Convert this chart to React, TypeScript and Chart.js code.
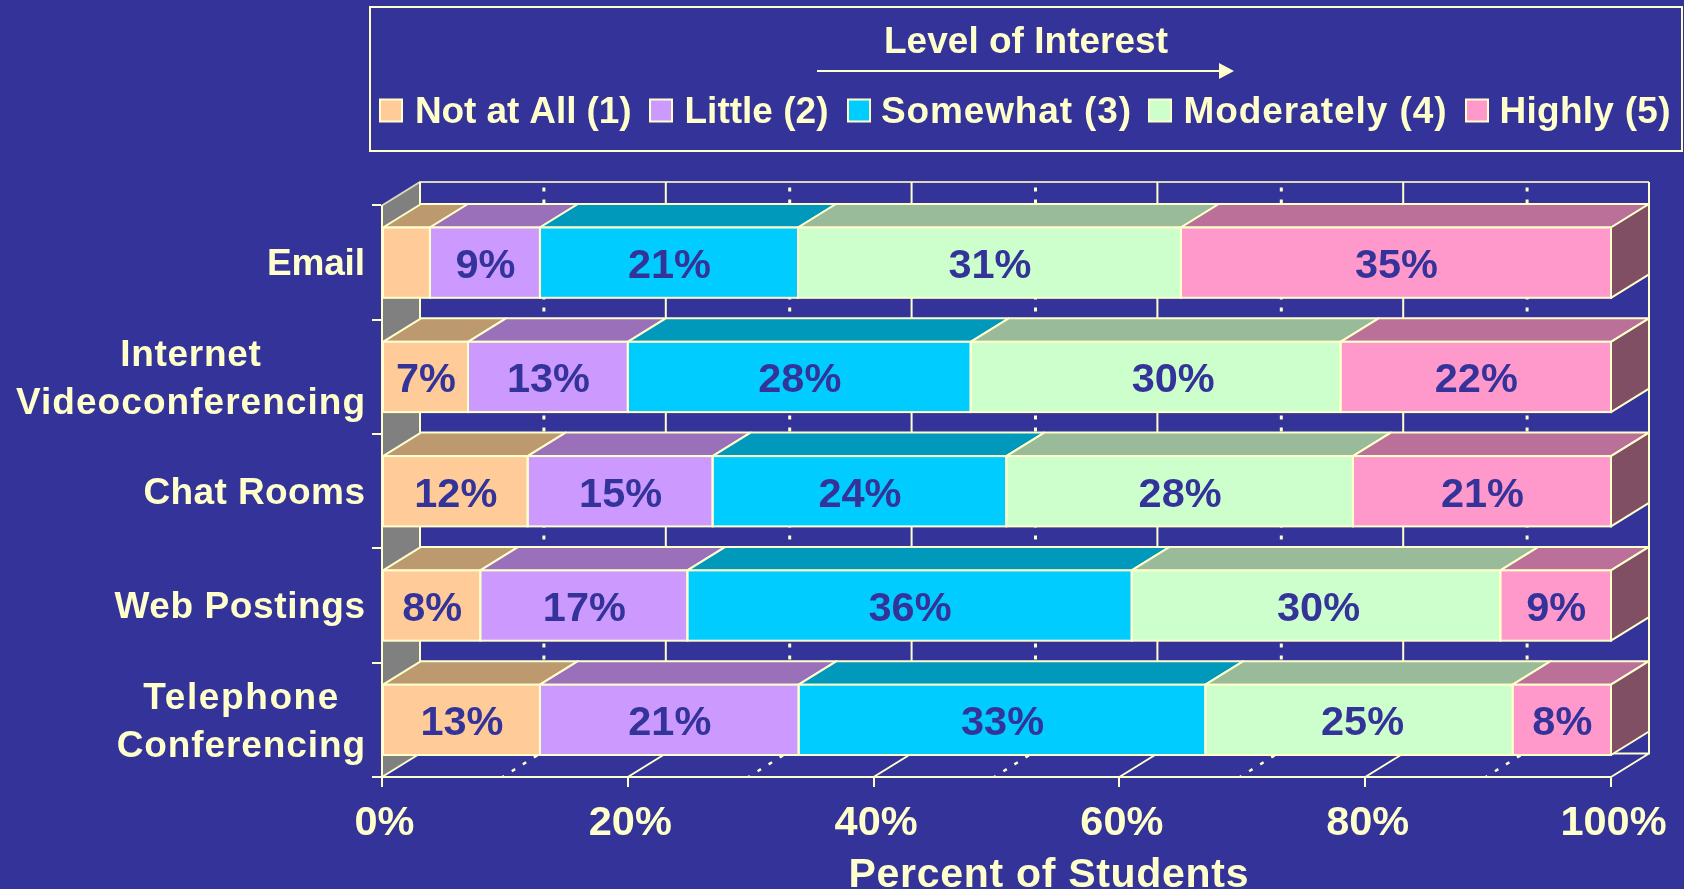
import React, { useEffect, useRef } from "react";
import { Chart, registerables } from "chart.js";

Chart.register(...registerables);

const categories: (string | string[])[] = [
  "Email",
  ["Internet", "Videoconferencing"],
  "Chat Rooms",
  "Web Postings",
  ["Telephone", "Conferencing"],
];
const seriesNames = ["Not at All (1)", "Little (2)", "Somewhat (3)", "Moderately (4)", "Highly (5)"];
const notAtAll = [3.9, 7, 11.85, 8, 12.85];
const little = [8.95, 13, 15.05, 16.85, 21.05];
const somewhat = [21, 27.9, 23.9, 36.15, 33.1];
const moderately = [31.15, 30.1, 28.2, 30, 25];
const highly = [35, 22, 21, 9, 8];
const seriesValues = [notAtAll, little, somewhat, moderately, highly];
const frontColors = ["#FFCC99", "#CC99FF", "#00CCFF", "#CCFFCC", "#FF99CC"];
const topColors = ["#BD9970", "#9A70BA", "#0099BB", "#99BB99", "#BB7099"];
const sideColor = "#804F63";
const wallColor = "#808080";
const legendTitle = "Level of Interest";
const axisTitle = "Percent of Students";

// layout of the hand-placed legend and text
const legendSwatchX = [380, 650, 848, 1149, 1466];
const legendTextX = [415, 684.5, 881, 1183.5, 1499.5];
const legendTextW = [216.5, 144, 250, 263, 171];
const labelW: Record<string, number> = {
  Email: 98,
  Internet: 140.6,
  Videoconferencing: 349,
  "Chat Rooms": 221.6,
  "Web Postings": 250.6,
  Telephone: 195,
  Conferencing: 248.3,
};
// value labels that sit off-centre in the reference: "dataset:category" -> px
const labelNudge: Record<string, number> = { "3:1": 17, "3:3": 2, "3:4": 3 };

const BG = "#333399";
const CREAM = "#FFFFCC";
const FONT = '"Liberation Sans", Arial, sans-serif';
const DX = 38;
const DY = 23.5;

function fitText(ctx: any, text: string, x: number, y: number, target: number) {
  ctx.letterSpacing = "0px";
  ctx.textAlign = "left";
  ctx.textBaseline = "alphabetic";
  const w = ctx.measureText(text).width;
  ctx.letterSpacing = `${(target - w) / (text.length - 1)}px`;
  ctx.fillText(text, x, y);
  ctx.letterSpacing = "0px";
}

const scene3d = {
  id: "scene3d",
  beforeDraw(chart: any) {
    const { ctx, width, height } = chart;
    ctx.save();
    ctx.fillStyle = BG;
    ctx.fillRect(0, 0, width, height);

    // legend box
    ctx.strokeStyle = CREAM;
    ctx.lineWidth = 2;
    ctx.strokeRect(370, 7, 1312, 144);
    ctx.fillStyle = CREAM;
    ctx.font = `bold 37px ${FONT}`;
    fitText(ctx, legendTitle, 884, 53, 284);
    ctx.beginPath();
    ctx.moveTo(817, 71);
    ctx.lineTo(1222, 71);
    ctx.stroke();
    ctx.beginPath();
    ctx.moveTo(1234, 71);
    ctx.lineTo(1219, 63);
    ctx.lineTo(1219, 79);
    ctx.closePath();
    ctx.fill();
    seriesNames.forEach((name, i) => {
      const x = legendSwatchX[i];
      ctx.fillStyle = frontColors[i];
      ctx.fillRect(x, 99.5, 22, 22);
      ctx.lineWidth = 2;
      ctx.strokeStyle = CREAM;
      ctx.strokeRect(x, 99.5, 22, 22);
      ctx.fillStyle = CREAM;
      fitText(ctx, name, legendTextX[i], 123, legendTextW[i]);
    });

    // walls and floor
    const xs = chart.scales.x;
    const { left, right, top, bottom } = chart.chartArea;
    ctx.fillStyle = wallColor;
    ctx.beginPath();
    ctx.moveTo(left, top);
    ctx.lineTo(left + DX, top - DY);
    ctx.lineTo(left + DX, bottom - DY);
    ctx.lineTo(left, bottom);
    ctx.closePath();
    ctx.fill();
    ctx.strokeStyle = "#D8D8B8";
    ctx.lineWidth = 2;
    ctx.beginPath();
    ctx.moveTo(left, top);
    ctx.lineTo(left + DX, top - DY);
    ctx.lineTo(right + DX, top - DY);
    ctx.stroke();
    ctx.strokeStyle = CREAM;
    ctx.beginPath();
    ctx.moveTo(left + DX, top - DY);
    ctx.lineTo(left + DX, bottom - DY);
    ctx.lineTo(right + DX, bottom - DY);
    ctx.lineTo(right + DX, top - DY);
    ctx.moveTo(left, bottom);
    ctx.lineTo(left + DX, bottom - DY);
    ctx.moveTo(right, bottom);
    ctx.lineTo(right + DX, bottom - DY);
    ctx.stroke();
    for (let v = 10; v < 100; v += 10) {
      const x = xs.getPixelForValue(v);
      if (v % 20 === 0) {
        ctx.beginPath();
        ctx.lineWidth = 2;
        ctx.moveTo(x + DX, top - DY);
        ctx.lineTo(x + DX, bottom - DY);
        ctx.lineTo(x, bottom);
        ctx.stroke();
      } else {
        ctx.lineWidth = 3;
        ctx.setLineDash([4, 8]);
        ctx.lineDashOffset = 6.5;
        ctx.beginPath();
        ctx.moveTo(x + DX + 1, top - DY);
        ctx.lineTo(x + DX + 1, bottom - DY);
        ctx.stroke();
        ctx.lineWidth = 2.5;
        ctx.setLineDash([4, 9]);
        ctx.lineDashOffset = 2;
        ctx.beginPath();
        ctx.moveTo(x - 2.5, bottom);
        ctx.lineTo(x + DX - 2.5, bottom - DY);
        ctx.stroke();
        ctx.setLineDash([]);
        ctx.lineDashOffset = 0;
      }
    }
    ctx.restore();
  },
  beforeDatasetsDraw(chart: any) {
    const { ctx } = chart;
    ctx.save();
    ctx.strokeStyle = CREAM;
    ctx.lineWidth = 2;
    ctx.lineJoin = "round";
    const count = chart.data.datasets.length;
    chart.data.datasets.forEach((_: any, d: number) => {
      chart.getDatasetMeta(d).data.forEach((bar: any) => {
        const { x, y, base, height } = bar.getProps(["x", "y", "base", "height"]);
        const t = y - height / 2;
        const b = y + height / 2;
        ctx.fillStyle = topColors[d];
        ctx.beginPath();
        ctx.moveTo(base, t);
        ctx.lineTo(base + DX, t - DY);
        ctx.lineTo(x + DX, t - DY);
        ctx.lineTo(x, t);
        ctx.closePath();
        ctx.fill();
        ctx.stroke();
        if (d === count - 1) {
          ctx.fillStyle = sideColor;
          ctx.beginPath();
          ctx.moveTo(x, t);
          ctx.lineTo(x + DX, t - DY);
          ctx.lineTo(x + DX, b - DY);
          ctx.lineTo(x, b);
          ctx.closePath();
          ctx.fill();
          ctx.stroke();
        }
      });
    });
    ctx.restore();
  },
  afterDatasetsDraw(chart: any) {
    const { ctx } = chart;
    ctx.save();
    ctx.strokeStyle = CREAM;
    ctx.lineWidth = 2;
    chart.data.datasets.forEach((ds: any, d: number) => {
      chart.getDatasetMeta(d).data.forEach((bar: any) => {
        const { x, y, base, height } = bar.getProps(["x", "y", "base", "height"]);
        ctx.strokeRect(base, y - height / 2, x - base, height);
      });
    });
    ctx.fillStyle = BG;
    ctx.textAlign = "center";
    ctx.textBaseline = "alphabetic";
    ctx.font = `bold 41.5px ${FONT}`;
    chart.data.datasets.forEach((ds: any, d: number) => {
      chart.getDatasetMeta(d).data.forEach((bar: any, i: number) => {
        const value = ds.data[i];
        if (value < 5) return;
        const { x, y, base } = bar.getProps(["x", "y", "base"]);
        const nudge = labelNudge[`${d}:${i}`] || 0;
        ctx.fillText(`${Math.round(value)}%`, (x + base) / 2 + 0.5 + nudge, y + 15.5);
      });
    });
    ctx.restore();
  },
  afterDraw(chart: any) {
    const { ctx } = chart;
    const ys = chart.scales.y;
    ctx.save();
    ctx.fillStyle = CREAM;
    ctx.font = `bold 37px ${FONT}`;
    const rightEdge = 365;
    categories.forEach((label, i) => {
      const lines = Array.isArray(label) ? label : [label];
      const widest = Math.max(...lines.map((l) => labelW[l]));
      const cy = ys.getPixelForTick(i);
      lines.forEach((l, k) => {
        const baseline = lines.length === 1 ? cy + 12.3 : cy + 13 + (k === 0 ? -24 : 24);
        fitText(ctx, l, rightEdge - widest / 2 - labelW[l] / 2, baseline, labelW[l]);
      });
    });
    ctx.font = `bold 41px ${FONT}`;
    fitText(ctx, axisTitle, 848.5, 887, 400);
    ctx.restore();
  },
};

export default function App() {
  const ref = useRef<HTMLCanvasElement>(null);
  useEffect(() => {
    document.body.style.margin = "0";
    document.body.style.background = BG;
    const chart = new Chart(ref.current as HTMLCanvasElement, {
      type: "bar",
      plugins: [scene3d],
      data: {
        labels: categories as any,
        datasets: seriesNames.map((label, i) => ({
          label,
          data: seriesValues[i],
          backgroundColor: frontColors[i],
          borderWidth: 0,
          barPercentage: 0.615,
          categoryPercentage: 1,
        })),
      },
      options: {
        indexAxis: "y",
        animation: false,
        responsive: false,
        devicePixelRatio: 1,
        layout: { padding: { top: 205.5, right: 73, left: 0, bottom: 0 } },
        plugins: { legend: { display: false }, title: { display: false }, tooltip: { enabled: false } },
        scales: {
          x: {
            stacked: true,
            min: 0,
            max: 100,
            afterFit: (s: any) => {
              s.height = 112;
            },
            border: { color: CREAM, width: 2 },
            grid: { drawOnChartArea: false, drawTicks: true, tickLength: 10, color: CREAM, lineWidth: 2 },
            ticks: {
              stepSize: 20,
              color: CREAM,
              font: { family: FONT, size: 41.5, weight: "bold" },
              padding: 12,
              labelOffset: 2.5,
              maxRotation: 0,
              callback: (v: any) => `${v}%`,
            },
          },
          y: {
            stacked: true,
            afterFit: (s: any) => {
              s.width = 382;
            },
            border: { color: CREAM, width: 2 },
            grid: { drawOnChartArea: false, drawTicks: true, tickLength: 10, color: CREAM, lineWidth: 2 },
            ticks: { display: false },
          },
        },
      } as any,
    });
    return () => chart.destroy();
  }, []);
  return <canvas ref={ref} width={1684} height={889} style={{ display: "block" }} />;
}
